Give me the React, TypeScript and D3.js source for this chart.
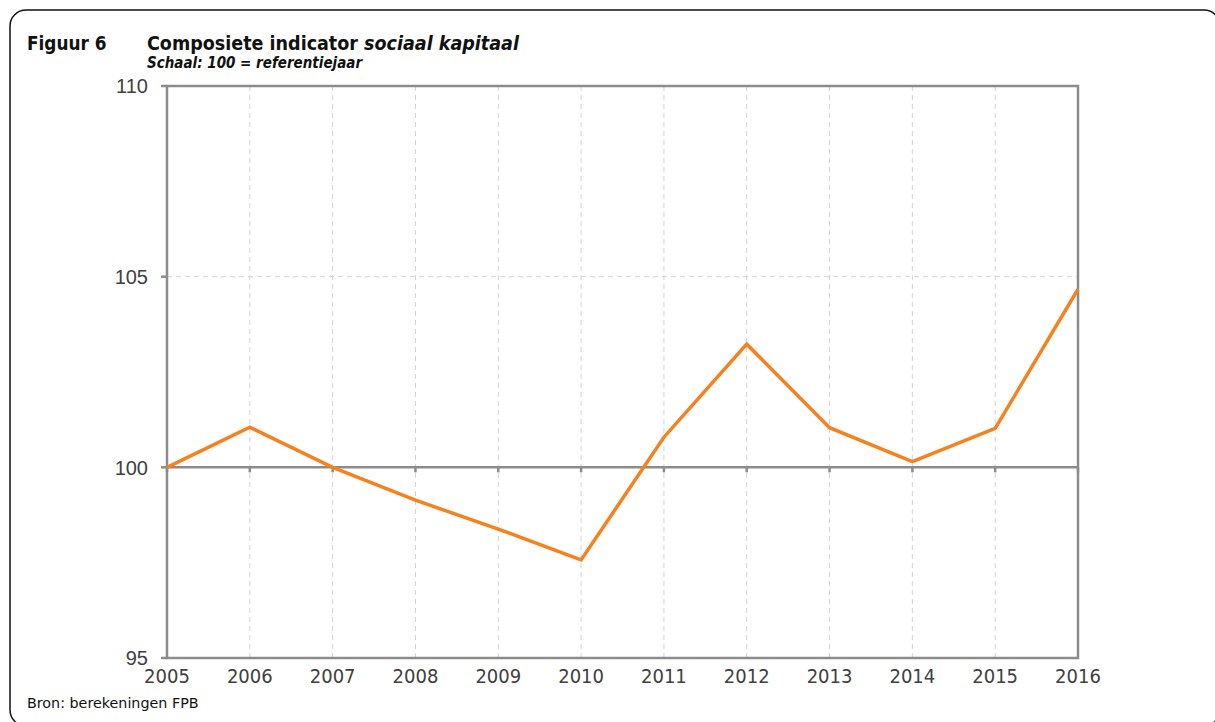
import React from "react";
import * as d3 from "d3";

const years = [2005, 2006, 2007, 2008, 2009, 2010, 2011, 2012, 2013, 2014, 2015, 2016];
const indexValues = [100, 101.05, 100.0, 99.14, 98.38, 97.57, 100.79, 103.23, 101.04, 100.15, 101.02, 104.67];
const yTicks = [95, 100, 105, 110];

const W = 1215;
const H = 722;
const plot = { left: 167, right: 1078, top: 86, bottom: 658 };
const axisGray = "#8c8c8c";
const gridGray = "#d4d4d4";
const textGray = "#404040";
const labelFont = "'DejaVu Sans Condensed', 'DejaVu Sans', sans-serif";

export default function App() {
  const x = d3.scaleLinear().domain([2005, 2016]).range([plot.left, plot.right]);
  const y = d3.scaleLinear().domain([95, 110]).range([plot.bottom, plot.top]);
  const line = d3
    .line<number>()
    .x((_, i) => x(years[i]))
    .y((v) => y(v));

  return (
    <svg
      width={W}
      height={H}
      style={{ position: "absolute", left: 0, top: 0, background: "#fff" }}
    >
      {/* outer frame */}
      <rect x={10} y={10} width={1210} height={716} rx={16} ry={16} fill="none" stroke="#111" strokeWidth={1.5} />

      {/* titles */}
      <text x={27} y={50} fontFamily={labelFont} fontWeight="bold" fontSize={18.8} fill="#111">
        Figuur 6
      </text>
      <text x={147} y={50} fontFamily={labelFont} fontWeight="bold" fontSize={19.5} fill="#111">
        Composiete indicator <tspan fontStyle="italic">sociaal kapitaal</tspan>
      </text>
      <text x={147} y={68} fontFamily={labelFont} fontWeight="bold" fontStyle="italic" fontSize={15} fill="#111">
        Schaal: 100 = referentiejaar
      </text>

      {/* vertical dashed gridlines */}
      {years.slice(1, -1).map((yr) => (
        <line
          key={"vg" + yr}
          x1={x(yr)}
          x2={x(yr)}
          y1={plot.top}
          y2={plot.bottom}
          stroke={gridGray}
          strokeWidth={1}
          strokeDasharray="5,4"
        />
      ))}
      {/* horizontal dashed gridlines */}
      {yTicks
        .filter((t) => t !== 95 && t !== 100 && t !== 110)
        .map((t) => (
          <line
            key={"hg" + t}
            x1={plot.left}
            x2={plot.right}
            y1={y(t)}
            y2={y(t)}
            stroke={gridGray}
            strokeWidth={1}
            strokeDasharray="5,4"
          />
        ))}

      {/* plot border */}
      <rect
        x={plot.left}
        y={plot.top}
        width={plot.right - plot.left}
        height={plot.bottom - plot.top}
        fill="none"
        stroke={axisGray}
        strokeWidth={2.5}
      />

      {/* y tick marks and labels */}
      {yTicks.map((t) => (
        <g key={"yt" + t}>
          <line x1={plot.left - 6} x2={plot.left} y1={y(t)} y2={y(t)} stroke={axisGray} strokeWidth={2.5} />
          <text
            x={148}
            y={y(t)}
            dy="0.36em"
            textAnchor="end"
            fontFamily="'Liberation Sans', Arial, sans-serif"
            fontSize={20}
            fill={textGray}
          >
            {t}
          </text>
        </g>
      ))}

      {/* horizontal axis crossing at 100 */}
      <line x1={plot.left} x2={plot.right} y1={y(100)} y2={y(100)} stroke={axisGray} strokeWidth={2.5} />
      {years.map((yr) => (
        <line
          key={"xt" + yr}
          x1={x(yr)}
          x2={x(yr)}
          y1={y(100)}
          y2={y(100) + 5}
          stroke={axisGray}
          strokeWidth={2.5}
        />
      ))}

      {/* year labels */}
      {years.map((yr) => (
        <text
          key={"xl" + yr}
          x={x(yr)}
          y={683}
          textAnchor="middle"
          fontFamily={labelFont}
          fontSize={20}
          fill={textGray}
        >
          {yr}
        </text>
      ))}

      {/* series */}
      <path d={line(indexValues) || ""} fill="none" stroke="#f5821f" strokeWidth={3.5} strokeLinejoin="miter" />

      {/* source */}
      <text x={27} y={708} fontFamily="'DejaVu Sans', sans-serif" fontSize={14.3} fill="#111">
        Bron: berekeningen FPB
      </text>
    </svg>
  );
}
